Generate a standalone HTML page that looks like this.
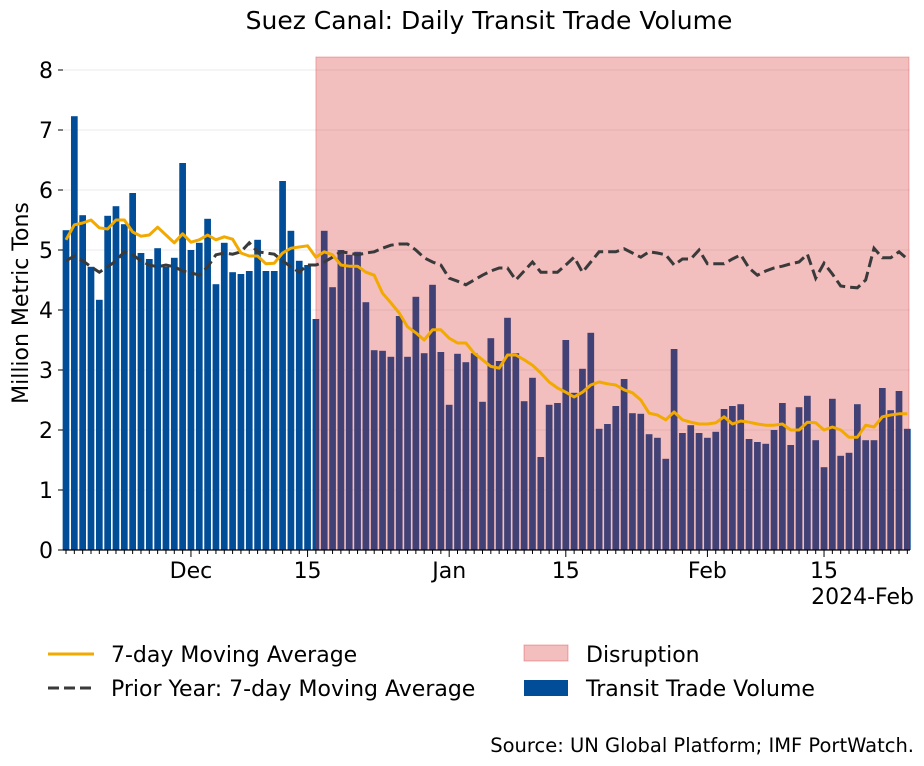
<!DOCTYPE html>
<html><head><meta charset="utf-8">
<style>
body{margin:0;background:#fff;}
svg{display:block;font-family:"DejaVu Sans","Liberation Sans",sans-serif;}
</style></head>
<body>
<svg id="chart" width="924" height="766" viewBox="0 0 924 766">
<text x="489" y="29" text-anchor="middle" font-size="25" fill="#000">Suez Canal: Daily Transit Trade Volume</text>
<text transform="translate(28,303) rotate(-90)" text-anchor="middle" font-size="22" fill="#000">Million Metric Tons</text>
<g id="grid"></g><g id="bars"></g><g id="span"></g><g id="lines"></g><g id="axes"></g>
<g>
<line x1="48" y1="654" x2="94" y2="654" stroke="#f2a900" stroke-width="3"/>
<text x="111" y="662" font-size="22">7-day Moving Average</text>
<line x1="48" y1="688" x2="94" y2="688" stroke="#3a3a3a" stroke-width="3" stroke-dasharray="11,5"/>
<text x="111" y="696" font-size="22">Prior Year: 7-day Moving Average</text>
<rect x="524" y="645" width="44" height="16" fill="rgba(214,39,40,0.3)" stroke="rgba(214,39,40,0.35)"/>
<text x="586" y="662" font-size="22">Disruption</text>
<rect x="524" y="680" width="44" height="16" fill="#014d97"/>
<text x="586" y="696" font-size="22">Transit Trade Volume</text>
</g>
<text x="914" y="752" text-anchor="end" font-size="19.5">Source: UN Global Platform; IMF PortWatch.</text>
</svg>
<script>
const values=[5.33,7.23,5.58,4.72,4.17,5.57,5.73,5.43,5.95,4.95,4.85,5.03,4.72,4.87,6.45,5.0,5.12,5.52,4.43,5.12,4.63,4.6,4.65,5.17,4.65,4.65,6.15,5.32,4.82,4.75,3.85,
5.32,4.38,5.0,4.92,4.97,4.13,3.33,3.32,3.22,3.9,3.22,4.22,3.28,4.42,3.3,2.42,3.27,3.13,3.28,2.47,3.53,3.15,3.87,3.28,2.48,2.87,1.55,2.42,2.45,3.5,2.62,3.02,3.62,2.02,2.1,2.4,
2.85,2.28,2.27,1.93,1.87,1.52,3.35,1.95,2.08,1.95,1.87,1.97,2.35,2.4,2.43,1.85,1.8,1.77,2.0,2.45,1.75,2.38,2.57,1.83,1.38,2.52,1.57,1.62,2.43,1.83,1.83,2.7,2.33,2.65,2.02];
const movingAvg=[5.17,5.42,5.45,5.5,5.37,5.35,5.5,5.5,5.3,5.23,5.25,5.38,5.25,5.12,5.27,5.13,5.17,5.25,5.17,5.22,5.18,4.95,4.9,4.9,4.77,4.78,4.95,5.03,5.05,5.07,4.88,4.97,4.92,4.75,4.73,4.73,4.63,4.58,4.28,4.12,3.95,3.72,3.62,3.5,3.67,3.67,3.53,3.45,3.45,3.28,3.17,3.06,3.03,3.25,3.25,3.17,3.08,2.95,2.8,2.7,2.63,2.55,2.63,2.75,2.8,2.77,2.75,2.67,2.62,2.5,2.28,2.25,2.17,2.3,2.17,2.13,2.1,2.1,2.12,2.22,2.1,2.15,2.13,2.1,2.08,2.08,2.1,2.0,2.0,2.13,2.12,2.0,2.05,2.0,1.88,1.88,2.08,2.05,2.22,2.25,2.27,2.27];
const priorYear=[4.82,4.9,4.82,4.72,4.63,4.72,4.82,4.97,4.92,4.82,4.75,4.72,4.75,4.72,4.65,4.62,4.58,4.72,4.92,4.95,4.93,4.97,5.12,4.97,4.95,4.93,4.82,4.72,4.63,4.75,4.75,
4.8,4.88,4.97,4.95,4.92,4.95,4.97,5.03,5.08,5.1,5.1,5.0,4.87,4.8,4.75,4.53,4.48,4.42,4.5,4.58,4.65,4.7,4.7,4.5,4.65,4.8,4.63,4.63,4.63,4.75,4.88,4.63,4.8,4.97,4.97,4.97,5.02,4.95,4.88,4.97,4.95,4.92,4.75,4.85,4.85,5.0,4.77,4.77,4.77,4.85,4.92,4.7,4.58,4.65,4.7,4.73,4.77,4.8,4.93,4.53,4.78,4.6,4.4,4.38,4.37,4.5,5.03,4.87,4.87,4.97,4.85];
const yTicks=[0,1,2,3,4,5,6,7,8];
const xTickIdx=[15,29,46,60,77,91];
const xTickLabels=["Dec","15","Jan","15","Feb","15"];
const disruptionStart=30, disruptionEnd=101.2;

const NS="http://www.w3.org/2000/svg";
const X=i=>66+8.33*i, Y=v=>550-60*v;
function mk(tag,attrs,parent){const e=document.createElementNS(NS,tag);for(const k in attrs)e.setAttribute(k,attrs[k]);parent.appendChild(e);return e;}
const grid=document.getElementById('grid'),bars=document.getElementById('bars'),span=document.getElementById('span'),lines=document.getElementById('lines'),axes=document.getElementById('axes');
yTicks.forEach(t=>{
  const g=mk('line',{x1:63,x2:910,y1:Y(t),y2:Y(t),stroke:'#ebebeb','stroke-width':1},grid);
  
  
  const tk=mk('line',{x1:58,x2:63,y1:Y(t),y2:Y(t),stroke:'#000','stroke-width':1},axes);
  
  
  const tx=mk('text',{x:53,y:Y(t)+8,'text-anchor':'end','font-size':22},axes);
  tx.textContent=t;
  
  
});
values.forEach((v,i)=>{
  const r=mk('rect',{x:X(i)-3.35,y:Y(v),width:6.7,height:550-Y(v),fill:'#014d97'},bars);
  
  
});
const sp=mk('rect',{x:X(disruptionStart),y:57,width:X(disruptionEnd)-X(disruptionStart),height:493,fill:'rgba(214,39,40,0.3)',stroke:'rgba(214,39,40,0.3)'},span);


const pp=mk('polyline',{points:priorYear.map((v,i)=>X(i)+','+Y(v)).join(' '),fill:'none',stroke:'#3a3a3a','stroke-width':3,'stroke-dasharray':'11,5'},lines);


const mp=mk('polyline',{points:movingAvg.map((v,i)=>X(i)+','+Y(v)).join(' '),fill:'none',stroke:'#f2a900','stroke-width':3,'stroke-linejoin':'round'},lines);


const ax=mk('line',{x1:63,x2:910,y1:550,y2:550,stroke:'#000','stroke-width':1.2},axes);


values.forEach((v,i)=>{
  const major=xTickIdx.includes(i);
  const t=mk('line',{x1:X(i),x2:X(i),y1:550,y2:major?557:554,stroke:'#000','stroke-width':1},axes);
  
  
});
xTickIdx.forEach((d,k)=>{
  const t=mk('text',{x:X(d),y:578,'text-anchor':'middle','font-size':22},axes);
  t.textContent=xTickLabels[k];
  
  
});
const yr=mk('text',{x:914,y:604,'text-anchor':'end','font-size':22},axes);
yr.textContent='2024-Feb';


</script>
</body></html>
